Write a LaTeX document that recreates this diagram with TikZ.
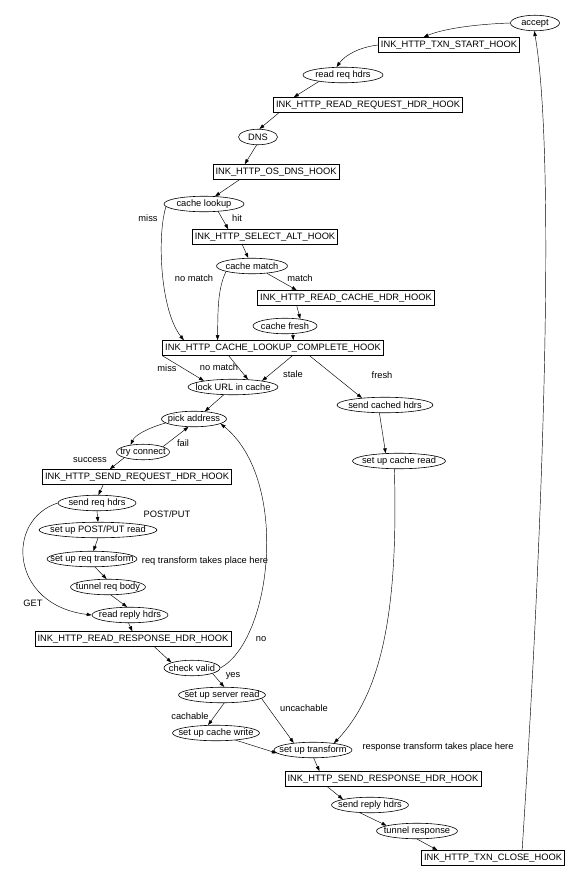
\documentclass[tikz,border=0pt]{standalone}
\usepackage{fontspec}
\setmainfont{Liberation Sans}
\usetikzlibrary{shapes.geometric,arrows.meta}

\begin{document}
\begin{tikzpicture}[x=1pt,y=-1pt,
        hook/.style={draw,rectangle,line width=0.6pt,inner xsep=2.5pt,inner ysep=2pt,minimum height=15pt},
        state/.style={draw,ellipse,line width=0.6pt,inner xsep=-14pt,inner ysep=0pt,minimum height=15.5pt,minimum width=#1},
        flow/.style={-{Triangle[length=5pt,width=3.5pt]},line width=0.45pt},
    ]
            \fontsize{9.3}{10}\selectfont
            \useasboundingbox (0,0) rectangle (578,884);

            \node[state=49] (accept) at (535,23) {accept};
            \node[hook] (start) at (449,45) {INK\_HTTP\_TXN\_START\_HOOK};
            \node[state=80] (readreq) at (343,75) {read req hdrs};
            \node[hook] (readhook) at (368,105) {INK\_HTTP\_READ\_REQUEST\_HDR\_HOOK};
            \node[state=39] (dns) at (258,137) {DNS};
            \node[hook] (dnshook) at (276,172) {INK\_HTTP\_OS\_DNS\_HOOK};
            \node[state=80] (lookup) at (204,204) {cache lookup};
            \node[hook] (selalt) at (265,237) {INK\_HTTP\_SELECT\_ALT\_HOOK};
            \node[state=71] (match) at (252,266) {cache match};
            \node[hook] (cachehdr) at (346,298) {INK\_HTTP\_READ\_CACHE\_HDR\_HOOK};
            \node[state=64] (fresh) at (285,326) {cache fresh};
            \node[hook] (complete) at (273,348) {INK\_HTTP\_CACHE\_LOOKUP\_COMPLETE\_HOOK};
            \node[state=90] (lock) at (233,387) {lock URL in cache};
            \node[state=96] (sendcached) at (385,405) {send cached hdrs};
            \node[state=93] (cacheread) at (399,461) {set up cache read};
            \node[state=65] (pick) at (194,419) {pick address};
            \node[state=53] (try) at (143,452) {try connect};
            \node[hook] (sendreq) at (137,477) {INK\_HTTP\_SEND\_REQUEST\_HDR\_HOOK};
            \node[state=78] (sendhdrs) at (97,503) {send req hdrs};
            \node[state=118] (postput) at (98,530) {set up POST/PUT read};
            \node[state=90] (reqtrans) at (92,559) {set up req transform};
            \node[state=75] (tunnelreq) at (108,587) {tunnel req body};
            \node[state=76] (replyhdrs) at (130,615) {read reply hdrs};
            \node[hook] (resphook) at (133,639) {INK\_HTTP\_READ\_RESPONSE\_HDR\_HOOK};
            \node[state=56] (valid) at (192,668) {check valid};
            \node[state=87] (serverread) at (222,695) {set up server read};
            \node[state=87] (cachewrite) at (216,733) {set up cache write};
            \node[state=78] (transform) at (313,750) {set up transform};
            \node[hook] (sendresp) at (383,779) {INK\_HTTP\_SEND\_RESPONSE\_HDR\_HOOK};
            \node[state=77] (replysend) at (370,805) {send reply hdrs};
            \node[state=81] (tunnelresp) at (417,831) {tunnel response};
            \node[hook] (close) at (493,858) {INK\_HTTP\_TXN\_CLOSE\_HOOK};

            % edge labels
            \node (lmissa) at (148,218) {miss};
            \node (lhit) at (237,218) {hit};
            \node (lnomatcha) at (194,278) {no match};
            \node (lmatch) at (300,278) {match};
            \node (lmissb) at (167,368) {miss};
            \node (lnomatchb) at (219,367) {no match};
            \node (lstale) at (293,374) {stale};
            \node (lfresh) at (382,375) {fresh};
            \node (lfail) at (183,443) {fail};
            \node (lsuccess) at (90,460) {success};
            \node (lpostput) at (167,514) {POST/PUT};
            \node (lreqtrans) at (205,561) {req transform takes place here};
            \node (lget) at (33,603) {GET};
            \node (lno) at (261,639) {no};
            \node (lyes) at (233,676) {yes};
            \node (lcachable) at (190,716) {cachable};
            \node (luncachable) at (304,708) {uncachable};
            \node (lresptrans) at (438,747) {response transform takes place here};

            \draw [flow]
                (accept.west) .. controls (480,24) and (445,28) .. (start.163);
            \draw [flow]
                (start.west) .. controls (360,47) and (345,55) .. (readreq.129);
            \draw [flow] (readreq.195) -- (readhook.174);
            \draw [flow] (readhook.185) -- (dns.80);
            \draw [flow] (dns.260) -- (dnshook.166);
            \draw [flow] (dnshook.192) -- (lookup.35);
            \draw [flow] (lookup.332) -- (selalt.168);
            \draw [flow]
                (lookup.184) .. controls (157,235) and (160,310) .. (complete.175);
            \draw [flow] (selalt.199) -- (match.115);
            \draw [flow]
                (match.192) .. controls (217,290) and (218,315) .. (complete.172);
            \draw [flow] (match.334) -- (cachehdr.171);
            \draw [flow] (cachehdr.189) -- (fresh.25);
            \draw [flow] (fresh.315) -- (complete.21);
            \draw [flow] (complete.184) -- (lock.168);
            \draw [flow] (complete.190) -- (lock.27);
            \draw [flow] (complete.338) -- (lock.12);
            \draw [flow] (complete.348) -- (sendcached.163);
            \draw [flow] (sendcached.235) -- (cacheread.150);
            \draw [flow]
                (cacheread.240) .. controls (398,600) and (385,690) .. (transform.18);
            \draw [flow] (lock.220) -- (pick.35);
            \draw [flow]
                (pick.188) .. controls (148,428) and (135,435) .. (try.150);
            \draw [flow] (try.15) -- (pick.235);
            \draw [flow] (try.197) -- (sendreq.164);
            \draw [flow] (sendreq.193) -- (sendhdrs.80);
            \draw [flow] (sendhdrs.south) -- (postput.north);
            \draw [flow]
                (sendhdrs.west) .. controls (5,520) and (10,605) .. (replyhdrs.west);
            \draw [flow] (postput.south) -- (reqtrans.80);
            \draw [flow] (reqtrans.290) -- (tunnelreq.100);
            \draw [flow] (tunnelreq.290) -- (replyhdrs.110);
            \draw [flow] (replyhdrs.260) -- (resphook.95);
            \draw [flow] (resphook.340) -- (valid.165);
            \draw [flow]
                (valid.east) .. controls (272,640) and (290,480) .. (pick.350);
            \draw [flow] (valid.345) -- (serverread.75);
            \draw [flow] (serverread.285) -- (cachewrite.135);
            \draw [flow] (serverread.355) -- (transform.160);
            \draw [flow] (cachewrite.340) -- (transform.185);
            \draw [flow] (transform.275) -- (sendresp.173);
            \draw [flow] (sendresp.188) -- (replysend.168);
            \draw [flow] (replysend.218) -- (tunnelresp.170);
            \draw [flow] (tunnelresp.270) -- (close.172);
            \draw [flow]
                (close.15) .. controls (545,500) and (555,150) .. (accept.265);
        \end{tikzpicture}
\end{document}
